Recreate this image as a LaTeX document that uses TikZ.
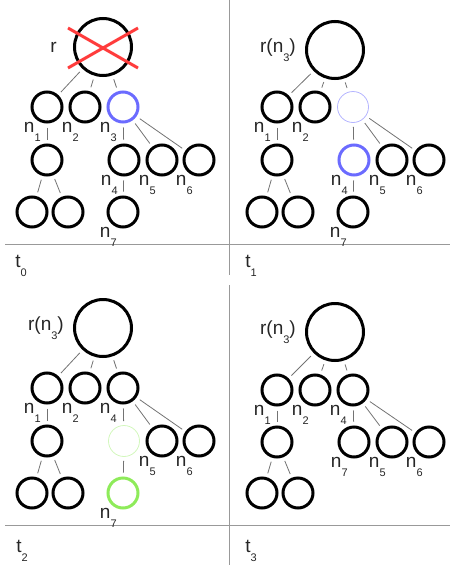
\documentclass[tikz,border=0pt]{standalone}
\usepackage{fontspec}
\setmainfont{Liberation Sans}
\usetikzlibrary{calc}
\definecolor{tblue}{HTML}{6B6BFF}
\definecolor{tbluefade}{HTML}{B4B4FF}
\definecolor{tgreen}{HTML}{8EEB5A}
\definecolor{tgreenfade}{HTML}{D2F7BC}
\definecolor{tred}{HTML}{FF3C3C}
\newcommand{\lsub}[1]{\raisebox{-9pt}{\fontsize{11}{11}\selectfont #1}}
\tikzset{
  tnode/.style={circle, draw=black, line width=3pt, minimum size=30pt, inner sep=0pt},
  troot/.style={tnode, minimum size=57pt},
  tcur/.style={tnode, draw=tblue},
  tnew/.style={tnode, draw=tgreen},
  tgone/.style={tnode, line width=0.8pt, minimum size=31pt},
  tedge/.style={draw=black!55, line width=0.8pt, shorten <=4pt, shorten >=4pt},
  tcross/.style={draw=tred, line width=3pt},
  tsep/.style={draw=black!40, line width=1pt},
  tlbl/.style={font=\fontsize{19}{21}\selectfont, inner sep=0pt, text=black!85},
  nlbl/.style={label={[tlbl, anchor=north east]248:n\lsub{#1}}},
  rlbl/.style={label={[tlbl, label distance=#1]180:r(n\lsub{3})}},
}
\begin{document}
\begin{tikzpicture}[x=1pt, y=-1pt]
  \useasboundingbox (0,0) rectangle (450,565);

  % separators
  \draw[tsep] (5,244) -- (450,244);
  \draw[tsep] (5,525) -- (450,525);
  \draw[tsep] (229,0) -- (229,275);
  \draw[tsep] (229,285) -- (229,565);

  % t0: root r is deleted, n3 is chosen
  \begin{scope}[name prefix=a-]
    \node[troot, label={[tlbl, label distance=16pt]180:r}] (r) at (103,47) {};
    \node[tnode, nlbl=1] (n1) at (47,107) {};
    \node[tnode, nlbl=2] (n2) at (85,107) {};
    \node[tcur, nlbl=3] (n3) at (123,107) {};
    \node[tnode] (m) at (47,160) {};
    \node[tnode, nlbl=4] (n4) at (124,160) {};
    \node[tnode, nlbl=5] (n5) at (162,160) {};
    \node[tnode, nlbl=6] (n6) at (199,160) {};
    \node[tnode] (g1) at (32,212) {};
    \node[tnode] (g2) at (68,212) {};
    \node[tnode, nlbl=7] (n7) at (123,212) {};
    \foreach \u/\v in {r/n1,r/n2,r/n3,n1/m,m/g1,m/g2,n3/n4,n3/n5,n3/n6,n4/n7}
      \draw[tedge] (\u) -- (\v);
    \draw[tcross] (r.center) +(-35,-19) -- +(35,21)
                  (r.center) +(-35,21) -- +(35,-19);
    \node[tlbl] (t) at (21,266) {t\lsub{0}};
  \end{scope}

  % t1: n3 moved up, n4 is next
  \begin{scope}[shift={(230,0)}, name prefix=b-]
    \node[troot, rlbl=9pt] (r) at (105,50) {};
    \node[tnode, nlbl=1] (n1) at (47,107) {};
    \node[tnode, nlbl=2] (n2) at (85,107) {};
    \node[tgone, draw=tbluefade] (n3) at (123,107) {};
    \node[tnode] (m) at (47,160) {};
    \node[tcur, nlbl=4] (n4) at (124,160) {};
    \node[tnode, nlbl=5] (n5) at (162,160) {};
    \node[tnode, nlbl=6] (n6) at (199,160) {};
    \node[tnode] (g1) at (32,212) {};
    \node[tnode] (g2) at (68,212) {};
    \node[tnode, nlbl=7] (n7) at (123,212) {};
    \foreach \u/\v in {r/n1,r/n2,r/n3,n1/m,m/g1,m/g2,n3/n4,n3/n5,n3/n6,n4/n7}
      \draw[tedge] (\u) -- (\v);
    \node[tlbl] (t) at (21,266) {t\lsub{1}};
  \end{scope}

  % t2: n4 moved up, n7 is next
  \begin{scope}[shift={(0,281)}, name prefix=c-]
    \node[troot, rlbl=9pt] (r) at (103,47) {};
    \node[tnode, nlbl=1] (n1) at (47,107) {};
    \node[tnode, nlbl=2] (n2) at (85,107) {};
    \node[tnode, nlbl=4] (n4) at (123,107) {};
    \node[tnode] (m) at (47,160) {};
    \node[tgone, draw=tgreenfade] (x) at (124,160) {};
    \node[tnode, nlbl=5] (n5) at (162,160) {};
    \node[tnode, nlbl=6] (n6) at (199,160) {};
    \node[tnode] (g1) at (32,212) {};
    \node[tnode] (g2) at (68,212) {};
    \node[tnew, nlbl=7] (n7) at (123,212) {};
    \foreach \u/\v in {r/n1,r/n2,r/n4,n1/m,m/g1,m/g2,n4/x,n4/n5,n4/n6,x/n7}
      \draw[tedge] (\u) -- (\v);
    \node[tlbl] (t) at (22,270) {t\lsub{2}};
  \end{scope}

  % t3: n7 moved up
  \begin{scope}[shift={(230,281)}, name prefix=d-]
    \node[troot, rlbl=9pt] (r) at (105,51) {};
    \node[tnode, nlbl=1] (n1) at (47,109) {};
    \node[tnode, nlbl=2] (n2) at (85,109) {};
    \node[tnode, nlbl=4] (n4) at (123,109) {};
    \node[tnode] (m) at (47,161) {};
    \node[tnode, nlbl=7] (n7) at (124,161) {};
    \node[tnode, nlbl=5] (n5) at (162,161) {};
    \node[tnode, nlbl=6] (n6) at (199,161) {};
    \node[tnode] (g1) at (32,212) {};
    \node[tnode] (g2) at (68,212) {};
    \foreach \u/\v in {r/n1,r/n2,r/n4,n1/m,m/g1,m/g2,n4/n7,n4/n5,n4/n6}
      \draw[tedge] (\u) -- (\v);
    \node[tlbl] (t) at (21,270) {t\lsub{3}};
  \end{scope}

\end{tikzpicture}
\end{document}
